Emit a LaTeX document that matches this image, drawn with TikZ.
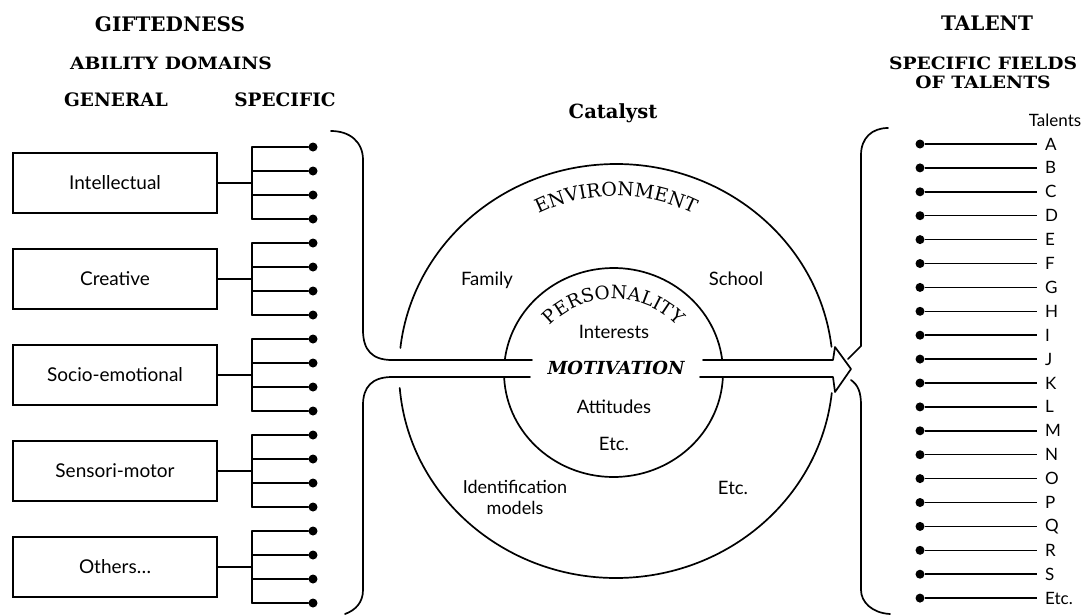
\documentclass[tikz,border=0pt]{standalone}
\usepackage{fontspec}
\setmainfont{Lato}
\newfontfamily\hdserif{DejaVu Serif}
\newfontfamily\hdwide[FakeStretch=1.1]{DejaVu Serif}
\usetikzlibrary{decorations.text}
\newcommand\myfs[1]{\fontsize{#1}{#1}\selectfont}
\newcommand\myenvfnt{\hdserif\fontsize{19}{19}\selectfont}
\newcommand\myperfnt{\hdserif\fontsize{18.5}{18.5}\selectfont}
\tikzset{
  gbox/.style={draw, line width=1.7pt, minimum width=204pt, minimum height=60pt, inner sep=0pt, font=\myfs{19}},
  dotn/.style={circle, fill=black, draw=none, inner sep=0pt, minimum size=9pt},
  lbl/.style={inner sep=0pt, font=\myfs{18.5}},
  rowlbl/.style={anchor=west, inner ysep=0pt, inner xsep=8pt, font=\myfs{17}},
  hdbig/.style={inner sep=0pt, font=\hdserif\bfseries\myfs{20}},
  hdmid/.style={inner sep=0pt, font=\hdserif\bfseries\myfs{18.5}},
  hdsmall/.style={inner sep=0pt, font=\hdwide\bfseries\myfs{17}},
  hdcat/.style={inner sep=0pt, font=\hdserif\bfseries\myfs{19.5}},
  motiv/.style={inner sep=0pt, font=\hdserif\bfseries\itshape\myfs{18}},
  stroke/.style={line width=1.7pt, line cap=round, line join=round},
  thin/.style={line width=1.5pt}
}
\begin{document}
\begin{tikzpicture}[x=1pt, y=1pt]
\fill[white] (0,0) rectangle (1087,-614);
\useasboundingbox (0,0) rectangle (1087,-614);

% headings
\node[hdbig] (gift) at (170,-24) {GIFTEDNESS};
\node[hdsmall] (abil) at (171,-63) {ABILITY DOMAINS};
\node[hdmid] (gen) at (116,-100) {GENERAL};
\node[hdmid] (spec) at (285,-100) {SPECIFIC};
\node[hdbig] (tal) at (987,-23) {TALENT};
\node[hdsmall] (sfields) at (983,-63) {SPECIFIC FIELDS};
\node[hdsmall] (oftal) at (983,-82) {OF TALENTS};
\node[hdcat] (cat) at (613,-113) {Catalyst};
\node[lbl, font=\myfs{17}] (talents) at (1055,-120) {Talents};

% general ability boxes and specific branches
\foreach \g/\t in {0/Intellectual,1/Creative,2/Socio-emotional,3/Sensori-motor,4/Others\ldots}{
  \pgfmathsetmacro\cy{183+96*\g}
  \node[gbox] (box\g) at (115,-\cy) {\t};
  \coordinate (tr\g) at (252,-\cy);
  \draw[stroke] (box\g.east) -- (tr\g);
  \foreach \k in {0,1,2,3}{
    \pgfmathsetmacro\yy{147+24*(4*\g+\k)}
    \node[dotn] (d\g\k) at (313,-\yy) {};
    \coordinate (tb\g\k) at (252,-\yy);
    \draw[stroke] (tb\g\k) -- (d\g\k);
  }
  \draw[stroke] (tb\g0) -- (tb\g3);
}

% talents list
\foreach \L [count=\k from 0] in {A,B,C,D,E,F,G,H,I,J,K,L,M,N,O,P,Q,R,S,Etc.}{
  \pgfmathsetmacro\ry{144+23.9*\k}
  \node[dotn] (rd\k) at (920,-\ry) {};
  \node[rowlbl] (rl\k) at (1037,-\ry) {\L};
  \draw[thin] (rd\k) -- (rl\k.west);
}

% outer circle (environment)
\draw[stroke] ([shift={(6.7:217 and 207)}]616,-371) arc[start angle=6.7, end angle=173.6, x radius=217, y radius=207];
\draw[stroke] ([shift={(184.7:217 and 207)}]616,-371) arc[start angle=184.7, end angle=353.9, x radius=217, y radius=207];
% inner circle (personality)
\draw[stroke] ([shift={(6.9:109.5 and 104.5)}]613.5,-372.5) arc[start angle=6.9, end angle=173.1, x radius=109.5, y radius=104.5];
\draw[stroke] ([shift={(182.5:109.5 and 104.5)}]613.5,-372.5) arc[start angle=182.5, end angle=357.5, x radius=109.5, y radius=104.5];

% curved titles
\path[decorate, decoration={text along path, text align=center, text={|\myenvfnt|ENVIRONMENT}}]
  ([shift={(180:175)}]616,-371) arc[start angle=180, end angle=0, radius=175];
\path[decorate, decoration={text along path, text align=center, text={|\myperfnt|PERSONALITY}}]
  ([shift={(180:82 and 73)}]613.5,-372) arc[start angle=180, end angle=0, x radius=82, y radius=73];

% left bracket and arrow band
\draw[stroke] (331,-131) .. controls (350,-131) and (363,-142) .. (363,-160)
  -- (363,-330) .. controls (363,-350) and (372,-360) .. (392,-360) -- (532,-360);
\draw[stroke] (530,-377) -- (392,-377) .. controls (372,-377) and (363,-387) .. (363,-405)
  -- (363,-590) .. controls (363,-602) and (356,-610) .. (345,-614);
\draw[stroke] (703,-360) -- (833,-360) -- (835,-347) -- (851,-369) -- (835,-392) -- (833,-377) -- (700,-377);

% right bracket
\draw[stroke] (888,-128) .. controls (872,-128) and (861,-138) .. (861,-155) -- (861,-346) -- (848,-359);
\draw[stroke] (851,-380) .. controls (858,-385) and (861,-392) .. (861,-405)
  -- (861,-590) .. controls (861,-602) and (872,-613) .. (890,-614);

% circle labels
\node[motiv] (mot) at (616,-368) {MOTIVATION};
\node[lbl] (fam) at (487,-280) {Family};
\node[lbl] (sch) at (736,-279) {School};
\node[lbl] (intr) at (614,-332) {Interests};
\node[lbl] (att) at (614,-407) {Attitudes};
\node[lbl] (etcin) at (614,-444) {Etc.};
\node[lbl, align=center, font=\fontsize{18}{21}\selectfont] (idm) at (515,-497) {Identification\\models};
\node[lbl] (etcout) at (733,-488) {Etc.};
\end{tikzpicture}
\end{document}
